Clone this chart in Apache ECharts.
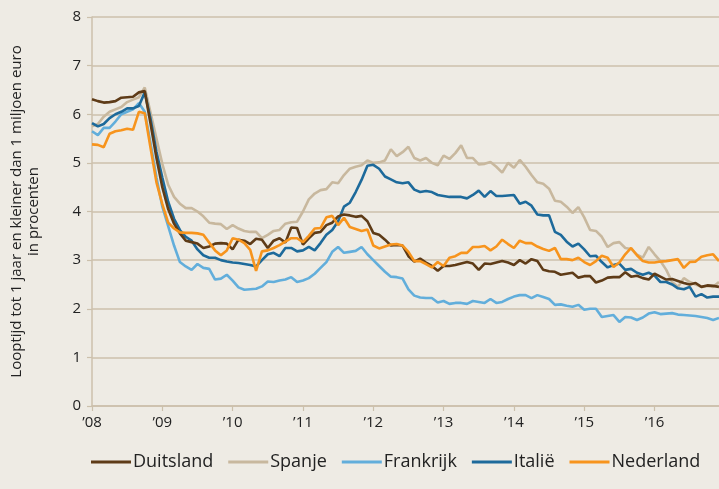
<!DOCTYPE html>
<html>
<head>
<meta charset="utf-8">
<script src="https://cdn.jsdelivr.net/npm/echarts@6/dist/echarts.min.js"></script>
<style>
  html, body { margin: 0; padding: 0; background: #EEEBE4; }
  #chart { width: 719px; height: 489px; }
</style>
</head>
<body>
<div id="chart"></div>
<script>
// maanden jan 2008 t/m dec 2016
var months = [];
for (var y = 2008; y <= 2016; y++) {
    for (var m = 1; m <= 12; m++) {
        months.push(y + '-' + (m < 10 ? '0' + m : m));
    }
}

var yTicks = [0, 1, 2, 3, 4, 5, 6, 7, 8];

var duitsland = [
    6.31, 6.27, 6.24, 6.25, 6.27, 6.34, 6.35, 6.36, 6.45, 6.48, 5.8, 5.1,
    4.5, 4.05, 3.75, 3.55, 3.4, 3.37, 3.34, 3.25, 3.28, 3.34, 3.35, 3.34,
    3.22, 3.42, 3.4, 3.33, 3.44, 3.42, 3.25, 3.4, 3.45, 3.36, 3.67, 3.66,
    3.32, 3.45, 3.56, 3.58, 3.72, 3.77, 3.9, 3.94, 3.92, 3.89, 3.91, 3.8,
    3.56, 3.52, 3.42, 3.3, 3.31, 3.3, 3.08, 2.97, 3.03, 2.95, 2.88, 2.78,
    2.88, 2.88, 2.9, 2.93, 2.96, 2.93, 2.8, 2.93, 2.92, 2.95, 2.98, 2.95,
    2.9, 3.0, 2.93, 3.02, 2.98, 2.8, 2.77, 2.76, 2.7, 2.72, 2.74, 2.64,
    2.67, 2.67, 2.54, 2.58, 2.64, 2.65, 2.65, 2.75, 2.66, 2.68, 2.63, 2.6,
    2.72, 2.66, 2.6, 2.61, 2.57, 2.53, 2.5, 2.53, 2.45, 2.48, 2.47, 2.45
];
var spanje = [
    5.75, 5.8, 5.95, 6.05, 6.1, 6.15, 6.25, 6.3, 6.35, 6.55, 6.03, 5.5,
    4.98, 4.55, 4.3, 4.16, 4.07, 4.07, 4.0, 3.9, 3.77, 3.75, 3.74, 3.64,
    3.72, 3.65, 3.6, 3.58, 3.58, 3.45, 3.52, 3.6, 3.62, 3.75, 3.78, 3.79,
    4.0, 4.25, 4.37, 4.44, 4.46, 4.6, 4.58, 4.75, 4.88, 4.92, 4.95, 5.05,
    5.0, 5.01, 5.05, 5.28, 5.14, 5.22, 5.33, 5.1, 5.05, 5.1, 5.0, 4.95,
    5.15, 5.08, 5.2, 5.36, 5.1, 5.1, 4.97, 4.98, 5.02, 4.92, 4.8, 5.0,
    4.9, 5.06, 4.92, 4.75, 4.6, 4.57, 4.47, 4.22, 4.2, 4.1, 3.97, 4.09,
    3.88, 3.62, 3.6, 3.48, 3.27, 3.35, 3.37, 3.25, 3.23, 3.11, 3.05, 3.27,
    3.12, 2.98, 2.8, 2.55, 2.45, 2.63, 2.55, 2.5, 2.45, 2.47, 2.45, 2.55
];
var frankrijk = [
    5.65, 5.57, 5.72, 5.72, 5.85, 6.0, 6.05, 6.1, 6.23, 6.05, 5.4, 4.7,
    4.1, 3.7, 3.3, 2.96, 2.87, 2.8, 2.92, 2.84, 2.82, 2.6, 2.62, 2.7,
    2.58, 2.44, 2.39, 2.4, 2.41, 2.46, 2.56, 2.55, 2.58, 2.6, 2.65, 2.55,
    2.58, 2.63, 2.72, 2.84, 2.96, 3.17, 3.27, 3.15, 3.17, 3.19, 3.27, 3.12,
    3.0, 2.88, 2.76, 2.66, 2.65, 2.62, 2.4, 2.27, 2.23, 2.22, 2.22, 2.13,
    2.16, 2.1, 2.12, 2.12, 2.1, 2.16, 2.14, 2.12, 2.2, 2.12, 2.14, 2.2,
    2.25, 2.28, 2.28, 2.22, 2.28, 2.24, 2.2, 2.08, 2.09, 2.06, 2.04, 2.08,
    1.98, 2.0, 2.0, 1.83, 1.85, 1.87, 1.73, 1.83, 1.82, 1.77, 1.82, 1.9,
    1.93, 1.89, 1.9, 1.91, 1.88, 1.87, 1.86, 1.85, 1.83, 1.81, 1.77, 1.81
];
var italie = [
    5.82, 5.75, 5.8, 5.92, 6.0, 6.05, 6.12, 6.12, 6.17, 6.45, 5.9, 5.23,
    4.7, 4.2, 3.85, 3.62, 3.48, 3.4, 3.22, 3.1, 3.05, 3.05, 3.0, 2.97,
    2.95, 2.94, 2.92, 2.9, 2.87, 3.0, 3.12, 3.15, 3.08, 3.25, 3.25, 3.18,
    3.2, 3.27, 3.2, 3.35, 3.52, 3.62, 3.8, 4.1, 4.18, 4.4, 4.65, 4.94,
    4.96, 4.88, 4.72, 4.66, 4.6, 4.58, 4.6, 4.45, 4.4, 4.42, 4.4, 4.34,
    4.32, 4.3, 4.3, 4.3, 4.27, 4.34, 4.43, 4.3, 4.42, 4.32, 4.32, 4.33,
    4.34, 4.16, 4.2, 4.12, 3.94, 3.92, 3.92, 3.58, 3.52, 3.38, 3.28, 3.34,
    3.22, 3.08, 3.09, 2.96, 2.85, 2.9, 2.93, 2.8, 2.82, 2.74, 2.7, 2.74,
    2.68, 2.55, 2.55, 2.5, 2.42, 2.4, 2.45, 2.25, 2.3, 2.23, 2.25, 2.25
];
var nederland = [
    5.38, 5.37, 5.32, 5.6, 5.65, 5.67, 5.7, 5.68, 6.05, 6.02, 5.3, 4.6,
    4.15, 3.77, 3.65, 3.57, 3.56, 3.56, 3.55, 3.52, 3.36, 3.2, 3.1, 3.2,
    3.45, 3.42, 3.35, 3.21, 2.78, 3.18, 3.2, 3.25, 3.31, 3.38, 3.45, 3.45,
    3.37, 3.5, 3.65, 3.66, 3.88, 3.91, 3.72, 3.87, 3.68, 3.64, 3.6, 3.63,
    3.3, 3.24, 3.28, 3.32, 3.33, 3.3, 3.17, 2.98, 2.98, 2.92, 2.85, 2.96,
    2.88, 3.05, 3.08, 3.15, 3.15, 3.27, 3.27, 3.29, 3.2, 3.28, 3.42, 3.33,
    3.25, 3.4, 3.35, 3.35, 3.28, 3.23, 3.19, 3.25, 3.02, 3.02, 3.0, 3.05,
    2.96, 2.9, 2.98, 3.09, 3.05, 2.86, 2.95, 3.12, 3.25, 3.1, 2.98, 2.95,
    2.95, 2.97, 2.98, 3.0, 3.02, 2.84, 2.96, 2.97, 3.07, 3.1, 3.12, 2.98
];

var tan = '#CCC0AC';
var fontAxis = "'Open Sans', 'Noto Sans', sans-serif";
var fontLegend = "'Liberation Sans Narrow', 'Open Sans', sans-serif";

var myChart = echarts.init(document.getElementById('chart'));

function lijn(naam, data, kleur) {
    return {
        name: naam,
        type: 'line',
        data: data,
        symbol: 'none',
        smooth: false,
        lineStyle: { color: kleur, width: 2.6 },
        itemStyle: { color: kleur }
    };
}

var option = {
    backgroundColor: '#EEEBE4',
    animation: false,
    grid: { left: 88, right: 0, top: 17, bottom: 83 },
    legend: {
        bottom: 13,
        left: 86,
        icon: 'rect',
        itemWidth: 40,
        itemHeight: 3,
        itemGap: 15,
        textStyle: { fontSize: 18, color: '#222', fontFamily: fontLegend, padding: [0, 0, 0, -3] },
        data: ['Duitsland', 'Spanje', 'Frankrijk', 'Italië', 'Nederland']
    },
    xAxis: {
        type: 'category',
        data: months,
        boundaryGap: false,
        axisLine: { lineStyle: { color: tan, width: 1.5 } },
        axisTick: {
            show: true,
            length: 5,
            interval: function (i) { return i % 12 === 0; },
            lineStyle: { color: tan, width: 1.2 }
        },
        axisLabel: {
            interval: function (i) { return i % 12 === 0; },
            formatter: function (v) { return '\u2019' + v.slice(2, 4); },
            color: '#222',
            fontSize: 15,
            fontFamily: fontAxis,
            margin: 9
        },
        splitLine: { show: false }
    },
    yAxis: {
        type: 'value',
        min: 0,
        max: 8,
        interval: 1,
        name: 'Looptijd tot 1 jaar en kleiner dan 1 miljoen euro\nin procenten',
        nameLocation: 'middle',
        nameGap: 50,
        nameTextStyle: { fontSize: 15, color: '#222', fontFamily: fontAxis, lineHeight: 17 },
        axisLine: { show: true, lineStyle: { color: tan, width: 1.5 } },
        axisTick: { show: true, length: 5, lineStyle: { color: tan, width: 1.2 } },
        axisLabel: {
            color: '#222',
            fontSize: 15,
            fontFamily: fontAxis,
            margin: 11,
            formatter: function (v) { return yTicks.indexOf(v) >= 0 ? String(v) : ''; }
        },
        splitLine: { lineStyle: { color: tan, width: 1.5 } }
    },
    series: [
        lijn('Spanje', spanje, '#C8B89E'),
        lijn('Frankrijk', frankrijk, '#62AEDB'),
        lijn('Italië', italie, '#1D6A9B'),
        lijn('Duitsland', duitsland, '#5E3B17'),
        lijn('Nederland', nederland, '#F7941D')
    ]
};
myChart.setOption(option);
</script>
</body>
</html>
